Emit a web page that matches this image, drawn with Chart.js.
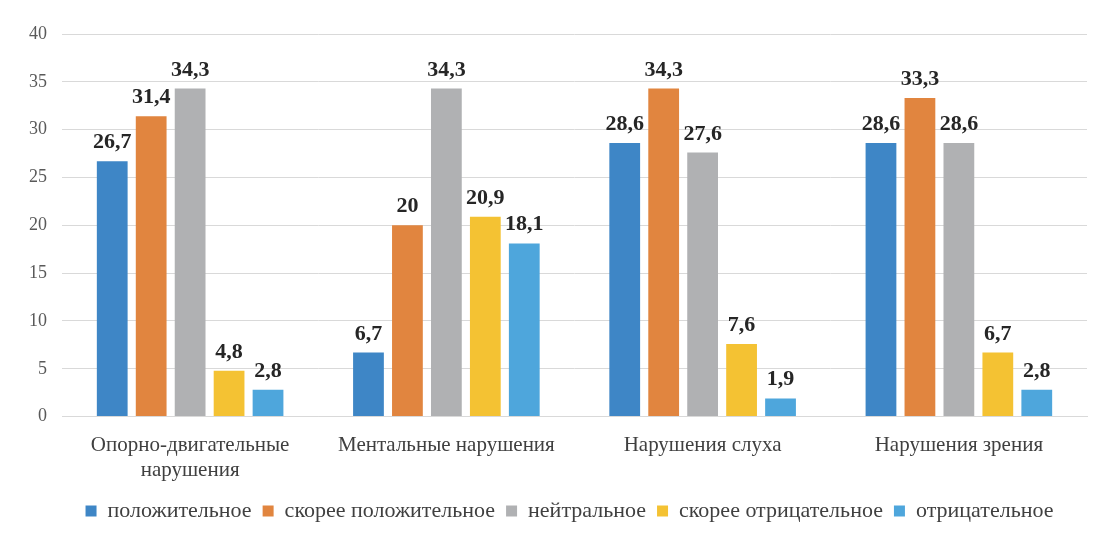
<!DOCTYPE html>
<html><head><meta charset="utf-8">
<script src="https://cdn.jsdelivr.net/npm/chart.js@4.4.0/dist/chart.umd.min.js"></script>
<style>html,body{margin:0;padding:0;background:#fff;}#wrap{width:1114px;height:542px;}</style>
</head><body><div id="wrap"><canvas id="c"></canvas></div>
<script>
const categories = [['Опорно-двигательные','нарушения'], 'Ментальные нарушения', 'Нарушения слуха', 'Нарушения зрения'];
const seriesNames = ['положительное','скорее положительное','нейтральное','скорее отрицательное','отрицательное'];
const positive = [26.7, 6.7, 28.6, 28.6];
const ratherPositive = [31.4, 20, 34.3, 33.3];
const neutral = [34.3, 34.3, 27.6, 28.6];
const ratherNegative = [4.8, 20.9, 7.6, 6.7];
const negative = [2.8, 18.1, 1.9, 2.8];
const yTicks = [0,5,10,15,20,25,30,35,40];
const colors = ['#3E86C6','#E1853F','#B0B1B3','#F4C233','#4EA6DC'];
const seriesValues = [positive, ratherPositive, neutral, ratherNegative, negative];
const serif = '"Liberation Serif", "Times New Roman", serif';

const labelPlugin = {
  id: 'vals',
  afterLayout(chart) {
    if (chart.legend) { chart.legend.left += 19; chart.legend.right += 19; }
  },
  afterDatasetsDraw(chart) {
    const ctx = chart.ctx;
    ctx.save();
    ctx.font = 'bold 22px ' + serif;
    ctx.fillStyle = '#262626';
    ctx.textAlign = 'center';
    ctx.textBaseline = 'alphabetic';
    chart.data.datasets.forEach((ds, i) => {
      const meta = chart.getDatasetMeta(i);
      meta.data.forEach((el, j) => {
        const v = ds.data[j];
        ctx.fillText(String(v).replace('.', ','), el.x, el.y - 13);
      });
    });
    ctx.restore();
  }
};

new Chart(document.getElementById('c'), {
  type: 'bar',
  data: {
    labels: categories,
    datasets: seriesNames.map((n, i) => ({
      label: n, data: seriesValues[i], backgroundColor: colors[i],
      categoryPercentage: 0.76, barPercentage: 0.79
    }))
  },
  options: {
    responsive: true, maintainAspectRatio: false, animation: false,
    layout: { padding: { left: 14, right: 27, top: 34, bottom: 10 } },
    plugins: {
      tooltip: { enabled: false },
      legend: {
        position: 'bottom',
        labels: {
          boxWidth: 11, boxHeight: 11, padding: 11, color: '#404040',
          font: { family: serif, size: 22 }
        }
      }
    },
    scales: {
      x: {
        grid: { display: false },
        border: { color: '#d9d9d9' },
        afterFit(axis) { axis.height -= 2; },
        ticks: { color: '#404040', padding: 8, font: { family: serif, size: 21, lineHeight: 1.2 }, maxRotation: 0 }
      },
      y: {
        min: 0, max: 40,
        afterBuildTicks(axis) { axis.ticks = yTicks.map(v => ({ value: v })); },
        grid: { color: '#d9d9d9', drawTicks: false },
        border: { display: false },
        ticks: { color: '#595959', padding: 15, font: { family: serif, size: 18 } }
      }
    }
  },
  plugins: [labelPlugin]
});
</script></body></html>
